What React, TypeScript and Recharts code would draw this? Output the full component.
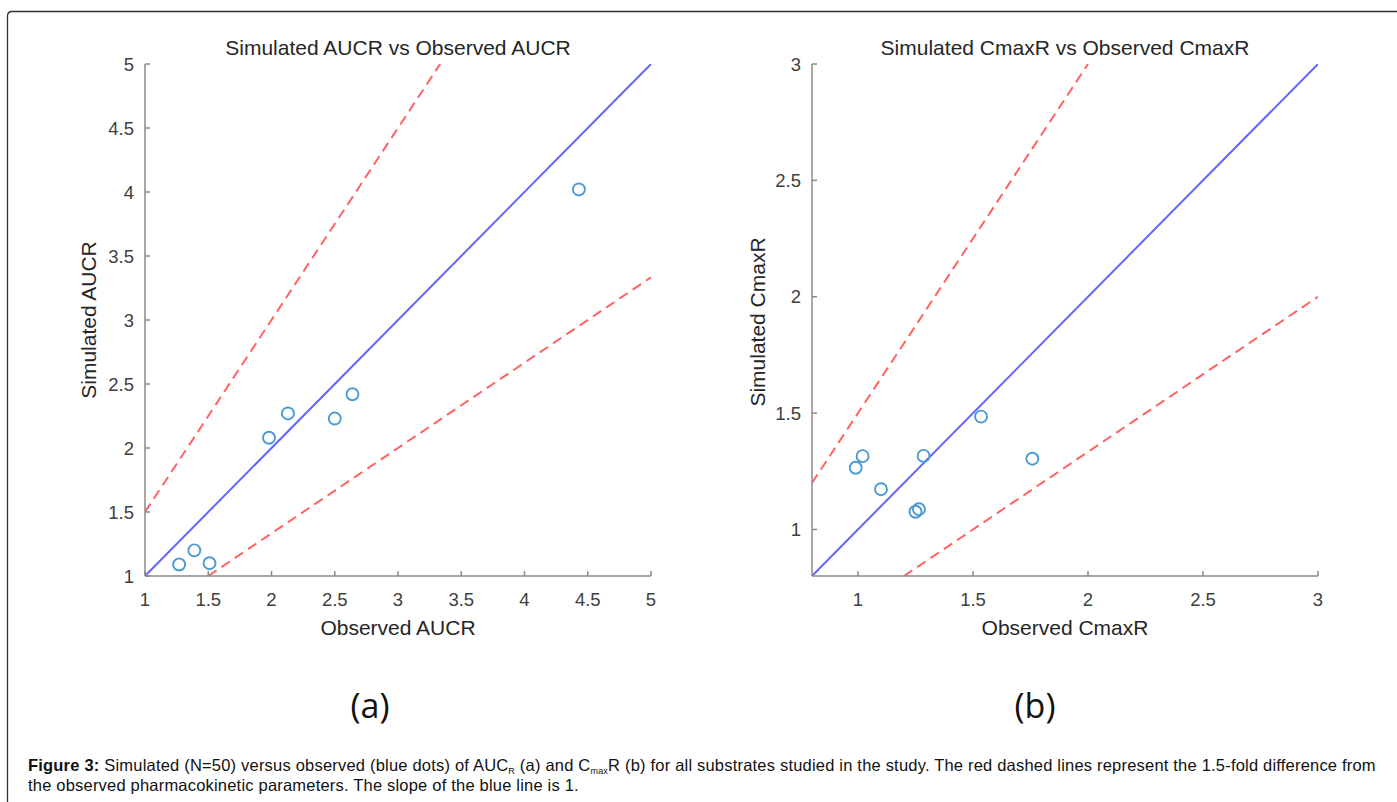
import React from "react";
import { ComposedChart, XAxis, YAxis, Line, Scatter } from "recharts";

// ---- data ----
const aucObserved = [1.27, 1.39, 1.51, 1.98, 2.13, 2.5, 2.64, 4.43];
const aucSimulated = [1.09, 1.2, 1.1, 2.08, 2.27, 2.23, 2.42, 4.02];
const cmaxObserved = [0.99, 1.02, 1.1, 1.25, 1.265, 1.285, 1.535, 1.758];
const cmaxSimulated = [1.265, 1.315, 1.173, 1.076, 1.087, 1.316, 1.485, 1.304];

const aucTicks = [1, 1.5, 2, 2.5, 3, 3.5, 4, 4.5, 5];
const cmaxTicks = [1, 1.5, 2, 2.5, 3];
const aucDomain: [number, number] = [1, 5];
const cmaxDomain: [number, number] = [0.8, 3];

// reference lines (data units): unity, +1.5-fold, -1.5-fold
const aucUnity = [{ x: 1, y: 1 }, { x: 5, y: 5 }];
const aucUpper = [{ x: 1, y: 1.5 }, { x: 3.3333, y: 5 }];
const aucLower = [{ x: 1.5, y: 1 }, { x: 5, y: 3.3333 }];
const cmaxUnity = [{ x: 0.8, y: 0.8 }, { x: 3, y: 3 }];
const cmaxUpper = [{ x: 0.8, y: 1.2 }, { x: 2, y: 3 }];
const cmaxLower = [{ x: 1.2, y: 0.8 }, { x: 3, y: 2 }];

const aucPoints = aucObserved.map((x, i) => ({ x, y: aucSimulated[i] }));
const cmaxPoints = cmaxObserved.map((x, i) => ({ x, y: cmaxSimulated[i] }));

const FONT = "'Liberation Sans', Arial, Helvetica, sans-serif";
const AXIS = "#8a8a8a";
const TICKTXT = "#404040";
const BLUE = "#6464ff";
const RED = "#ff6262";
const DOT = "#4a9ad4";

const XTick = (props: any) => {
  const { x, y, payload } = props;
  return (
    <g>
      <line x1={x} x2={x} y1={y} y2={y - 5} stroke={AXIS} strokeWidth={1.5} />
      <text x={x} y={y + 30} textAnchor="middle" fontFamily={FONT} fontSize={18.5} fill={TICKTXT}>
        {payload.value}
      </text>
    </g>
  );
};

const YTick = (props: any) => {
  const { x, y, payload } = props;
  return (
    <g>
      <line x1={x} x2={x + 5} y1={y} y2={y} stroke={AXIS} strokeWidth={1.5} />
      <text x={x - 11} y={y + 6.5} textAnchor="end" fontFamily={FONT} fontSize={18.5} fill={TICKTXT}>
        {payload.value}
      </text>
    </g>
  );
};

const Ring = (props: any) => {
  const { cx, cy } = props;
  if (cx == null || cy == null) return null;
  return <circle cx={cx} cy={cy} r={6} fill="none" stroke={DOT} strokeWidth={1.9} />;
};

type PanelProps = {
  left: number;
  width: number;
  margin: { top: number; right: number; bottom: number; left: number };
  domain: [number, number];
  ticks: number[];
  unity: { x: number; y: number }[];
  upper: { x: number; y: number }[];
  lower: { x: number; y: number }[];
  points: { x: number; y: number }[];
};

const Panel = ({ left, width, margin, domain, ticks, unity, upper, lower, points }: PanelProps) => (
  <div style={{ position: "absolute", left, top: 0 }}>
    <ComposedChart width={width} height={660} margin={margin}>
      <XAxis
        type="number"
        dataKey="x"
        domain={domain}
        ticks={ticks}
        allowDataOverflow
        height={30}
        tickSize={0}
        tickMargin={0}
        axisLine={{ stroke: AXIS, strokeWidth: 1.5 }}
        tickLine={false}
        tick={<XTick />}
      />
      <YAxis
        type="number"
        dataKey="y"
        domain={domain}
        ticks={ticks}
        allowDataOverflow
        width={60}
        tickSize={0}
        tickMargin={0}
        axisLine={{ stroke: AXIS, strokeWidth: 1.5 }}
        tickLine={false}
        tick={<YTick />}
      />
      <Line data={upper} dataKey="y" stroke={RED} strokeWidth={2} strokeDasharray="10 6" dot={false} isAnimationActive={false} type="linear" />
      <Line data={lower} dataKey="y" stroke={RED} strokeWidth={2} strokeDasharray="10 6" dot={false} isAnimationActive={false} type="linear" />
      <Line data={unity} dataKey="y" stroke={BLUE} strokeWidth={2} dot={false} isAnimationActive={false} type="linear" />
      <Scatter data={points} dataKey="y" shape={<Ring />} isAnimationActive={false} />
    </ComposedChart>
  </div>
);

export default function App() {
  return (
    <div style={{ position: "absolute", left: 0, top: 0, width: 1397, height: 802, background: "#fff", overflow: "hidden" }}>
      <Panel
        left={0}
        width={700}
        margin={{ top: 64, right: 49, bottom: 54, left: 85 }}
        domain={aucDomain}
        ticks={aucTicks}
        unity={aucUnity}
        upper={aucUpper}
        lower={aucLower}
        points={aucPoints}
      />
      <Panel
        left={700}
        width={697}
        margin={{ top: 64, right: 79, bottom: 54, left: 52 }}
        domain={cmaxDomain}
        ticks={cmaxTicks}
        unity={cmaxUnity}
        upper={cmaxUpper}
        lower={cmaxLower}
        points={cmaxPoints}
      />
      <svg width={1397} height={802} style={{ position: "absolute", left: 0, top: 0, pointerEvents: "none" }}>
        <path d="M7.5 810 L7.5 16 Q7.5 11.5 12 11.5 L1410 11.5" fill="none" stroke="#333" strokeWidth={1.3} />
        <g fontFamily={FONT} fill="#262626">
          <text x={398} y={55} textAnchor="middle" fontSize={21}>Simulated AUCR vs Observed AUCR</text>
          <text x={1065} y={55} textAnchor="middle" fontSize={21}>Simulated CmaxR vs Observed CmaxR</text>
          <text x={398} y={635} textAnchor="middle" fontSize={21}>Observed AUCR</text>
          <text x={1065} y={635} textAnchor="middle" fontSize={21}>Observed CmaxR</text>
          <text transform="translate(96,320) rotate(-90)" textAnchor="middle" fontSize={21}>Simulated AUCR</text>
          <text transform="translate(765,322) rotate(-90)" textAnchor="middle" fontSize={21}>Simulated CmaxR</text>
        </g>
        <g fontFamily="'Open Sans', 'Noto Sans', sans-serif" fill="#111" fontSize={34}>
          <text x={370} y={718} textAnchor="middle">(a)</text>
          <text x={1035} y={718} textAnchor="middle">(b)</text>
        </g>
        <g fontFamily={FONT} fill="#111" fontSize={16.5} letterSpacing={0.2}>
          <text x={28} y={771}>
            <tspan fontWeight="bold">Figure 3:</tspan>
            <tspan> Simulated (N=50) versus observed (blue dots) of AUC</tspan>
            <tspan fontSize={9} dy={3}>R</tspan>
            <tspan dy={-3}> (a) and C</tspan>
            <tspan fontSize={9} dy={3}>max</tspan>
            <tspan dy={-3}>R  (b) for all substrates studied in the study. The red dashed lines represent the 1.5-fold difference from</tspan>
          </text>
          <text x={28} y={791}>the observed pharmacokinetic parameters. The slope of the blue line is 1.</text>
        </g>
      </svg>
    </div>
  );
}
